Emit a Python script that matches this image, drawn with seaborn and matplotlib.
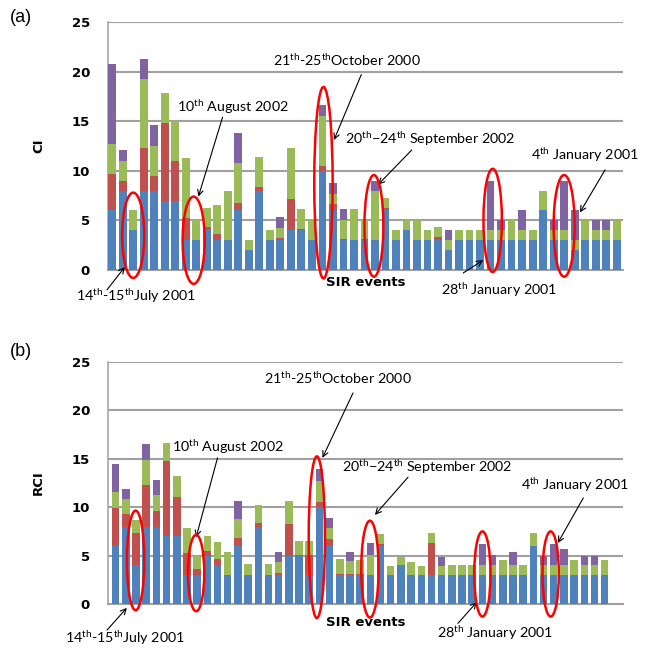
import numpy as np
import pandas as pd
import seaborn as sns
import matplotlib.pyplot as plt
from matplotlib.patches import Ellipse

plt.rcParams['mathtext.fontset'] = 'custom'
plt.rcParams['mathtext.rm'] = 'Lato'
plt.rcParams['mathtext.it'] = 'Lato:italic'
plt.rcParams['mathtext.bf'] = 'Lato:bold'

layers = ['blue', 'red', 'green', 'purple']
palette = {'blue': '#4F81BD', 'red': '#C0504D', 'green': '#9BBB59', 'purple': '#8064A2'}

# CI stacked parts, one value per SIR event
ci_blue = [6, 8, 4, 8, 8, 7, 7, 3, 3, 4.1, 3, 3, 6, 2, 8, 3, 3, 4, 4, 3, 10, 6, 3, 3, 3,
           3, 6, 3, 4, 3, 3, 3, 2, 3, 3, 3, 3, 3, 3, 3, 3, 6, 3, 3, 2, 3, 3, 3, 3]
ci_red = [3.7, 1, 0, 4.3, 1.5, 7.8, 4, 2.2, 0, 0.2, 0.6, 0, 0.8, 0, 0.4, 0, 0.2, 3.2, 0.1, 0, 0.5, 0.7, 0.1, 0, 0.1,
          0, 0.3, 0, 0, 0, 0, 0.3, 0, 0, 0, 0, 0, 0, 0, 0, 0, 0, 0, 0, 0, 0, 0, 0, 0]
ci_green = [3, 2, 2, 7, 3, 3, 4, 6.1, 2, 1.9, 3, 5, 4, 1, 3, 1, 1, 5.1, 2, 2, 5, 1, 1.9, 3.1, 1.9,
            5, 1, 1, 1, 2, 1, 1, 1, 1, 1, 1, 1, 1, 2, 1, 1, 2, 1, 1, 1, 2, 1, 1, 2]
ci_purple = [8.1, 1.1, 0, 2, 2.1, 0, 0, 0, 0, 0, 0, 0, 3, 0, 0, 0, 1.1, 0, 0, 0, 1.1, 1.1, 1.1, 0, 0,
             1, 0, 0, 0, 0, 0, 0, 1, 0, 0, 0, 5, 1, 0, 2, 0, 0, 1, 5, 3, 0, 1, 1, 0]

# RCI stacked parts
rci_blue = [6, 8, 4, 8, 8, 7, 7, 3, 3, 5, 4, 3, 6, 3, 8, 3, 3, 5, 5, 3, 10, 6, 3, 3, 3,
            3, 6, 3, 4, 3, 3, 3, 3, 3, 3, 3, 3, 3, 3, 3, 3, 6, 3, 3, 3, 3, 3, 3, 3]
rci_red = [3.9, 1.3, 3.3, 4.3, 1.6, 7.8, 4.1, 2.3, 0.6, 0.5, 0.6, 0, 0.8, 0, 0.4, 0, 0.2, 3.3, 0.1, 2.1, 0.5, 0.7, 0.1, 0.1, 0.1,
           0, 0.2, 0, 0, 0, 0, 3.3, 0, 0, 0, 0, 0, 0, 0, 0, 0, 0, 0, 0, 0, 0, 0, 0, 0]
rci_green = [1.7, 1.5, 1.4, 2.6, 1.7, 1.8, 2.1, 2.6, 1.4, 1.5, 1.8, 2.4, 2, 1.1, 1.8, 1.1, 1.1, 2.3, 1.4, 1.4, 2.2, 1.1, 1.6, 1.3, 1.4,
             2.1, 1, 0.9, 0.9, 1.3, 0.9, 1, 0.9, 1, 1, 1, 1, 1, 1.5, 1, 1, 1.3, 1, 1, 1, 1.5, 1, 1, 1.5]
rci_purple = [2.9, 1.1, 0, 1.6, 1.5, 0, 0, 0, 0, 0, 0, 0, 1.8, 0, 0, 0, 1.1, 0, 0, 0, 1.2, 1.1, 0, 1, 0,
              1.2, 0, 0, 0, 0, 0, 0, 1, 0, 0, 0, 2.2, 1.1, 0, 1.4, 0, 0, 1, 2.2, 1.7, 0, 1, 1, 0]

labels = [r'14$^{\rm th}$-15$^{\rm th}$July 2001', r'10$^{\rm th}$ August 2002',
          r'21$^{\rm th}$-25$^{\rm th}$October 2000', r'20$^{\rm th}$$-$24$^{\rm th}$ September 2002',
          r'28$^{\rm th}$ January 2001', r'4$^{\rm th}$ January 2001']

# (text x, text y, arrow tail x, tail y, head x, head y) in data units, per panel
notes_a = [(2.3, -2.6, -0.5, -2.0, 1.2, 0.3), (11.5, 16.4, 10.5, 15.4, 8.2, 7.4),
           (22.3, 21.2, 23.7, 19.7, 21.1, 13.1), (30.3, 13.2, 28.5, 12.1, 25.3, 8.6),
           (36.8, -2.0, 33.4, -0.3, 35.3, 1.0), (45.0, 11.6, 46.9, 10.1, 44.5, 5.8)]
ell_a = [(2.0, 3.5, 2.1, 8.6), (7.75, 3.0, 2.1, 8.8), (20.1, 8.8, 1.75, 19.3),
         (24.9, 4.45, 1.8, 10.25), (36.2, 5.0, 1.75, 10.4), (43.0, 4.45, 2.0, 10.25)]

notes_b = [(0.9, -3.5, -0.85, -2.7, 1.1, -0.4), (11.0, 16.2, 10.0, 15.1, 7.9, 6.9),
           (21.8, 23.35, 23.3, 21.8, 20.3, 15.1), (30.6, 14.15, 28.7, 13.1, 25.45, 9.2),
           (37.2, -3.0, 33.6, -2.0, 35.45, 0.2), (45.1, 12.3, 45.9, 10.95, 43.4, 6.3)]
ell_b = [(1.96, 4.5, 1.7, 10.3), (7.9, 3.2, 1.6, 7.9), (19.75, 6.9, 1.6, 16.7),
         (24.96, 3.6, 1.7, 10.0), (36.0, 3.1, 1.6, 8.8), (42.7, 3.1, 1.6, 8.8)]


def draw_panel(ax, parts, ylabel, notes, ellipses, xlim, xpad):
    df = pd.DataFrame(dict(zip(layers, parts)))
    df['event'] = np.arange(len(df))
    tops = df[layers].cumsum(axis=1)
    # tallest first, so each lower layer is painted over it
    for layer in layers[::-1]:
        sns.barplot(x=df['event'], y=tops[layer], color=palette[layer], saturation=1,
                    width=0.74, errorbar=None, ax=ax, zorder=3)

    ax.set_xlim(*xlim)
    ax.set_ylim(0, 25)
    ax.set_yticks(range(0, 26, 5))
    ax.set_xticks([])
    ax.yaxis.grid(True, color='#A0A0A0', linewidth=1.5)
    ax.set_axisbelow(True)
    for s in ['top', 'right']:
        ax.spines[s].set_visible(False)
    ax.spines['left'].set_color('#A6A6A6')
    ax.spines['bottom'].set_color('#A0A0A0')
    ax.spines['left'].set_linewidth(1.2)
    ax.spines['bottom'].set_linewidth(1.5)
    ax.tick_params(axis='y', length=0, pad=13)
    for t in ax.get_yticklabels():
        t.set_fontweight('bold')
        t.set_fontsize(9.5)

    ax.set_ylabel(ylabel, fontweight='bold', fontsize=9.5)
    ax.yaxis.set_label_coords(-0.122, 0.5)
    ax.set_xlabel('SIR events', fontweight='bold', fontsize=9.5, labelpad=xpad)

    for (ex, ey, ew, eh) in ellipses:
        ax.add_patch(Ellipse((ex, ey), ew, eh, fill=False, edgecolor='#FF0000',
                             linewidth=1.8, clip_on=False, zorder=5))
    for label, (tx, ty, ax0, ay0, hx, hy) in zip(labels, notes):
        ax.text(tx, ty, label, ha='center', va='center', fontsize=10.3, family='Lato',
                clip_on=False, zorder=6)
        ax.annotate('', xy=(hx, hy), xytext=(ax0, ay0), annotation_clip=False,
                    arrowprops=dict(arrowstyle='->', color='black', lw=0.8, shrinkA=0, shrinkB=0))


fig = plt.figure(figsize=(6.51, 6.48), dpi=100)
ax_a = fig.add_axes([108 / 651, 1 - 270 / 648, 515 / 651, 248 / 648])
ax_b = fig.add_axes([108 / 651, 1 - 604 / 648, 515 / 651, 242 / 648])

draw_panel(ax_a, [ci_blue, ci_red, ci_green, ci_purple], 'CI', notes_a, ell_a, (-0.4, 48.6), 4)
draw_panel(ax_b, [rci_blue, rci_red, rci_green, rci_purple], 'RCI', notes_b, ell_b, (-0.75, 49.8), 9)

fig.text(10 / 651, 1 - 18 / 648, '(a)', fontsize=13, family='Liberation Sans', va='center')
fig.text(10 / 651, 1 - 352 / 648, '(b)', fontsize=13, family='Liberation Sans', va='center')

fig.savefig('out.png', dpi=100)
